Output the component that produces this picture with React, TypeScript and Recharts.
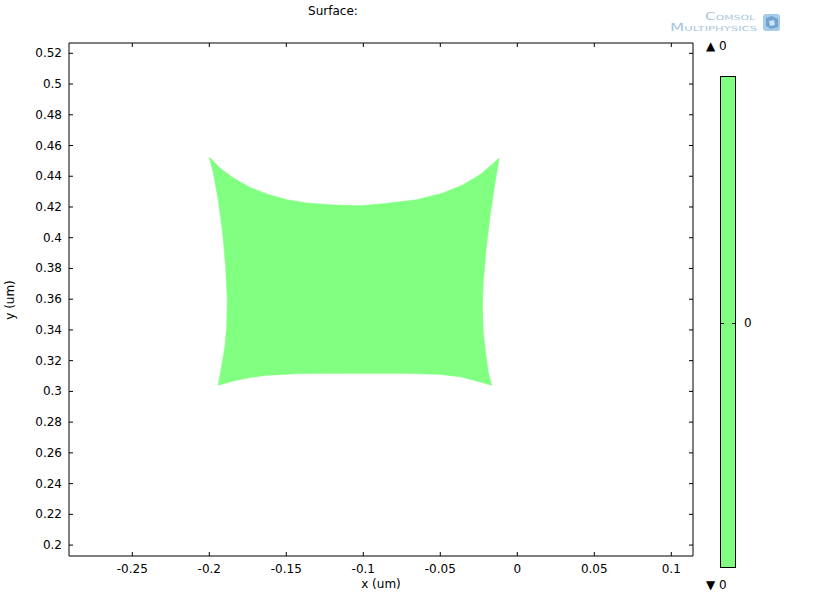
import React from 'react';
import { ScatterChart, Scatter, XAxis, YAxis } from 'recharts';

// outline of the deformed square (um), clockwise from top-left
const shapeX = [
  -0.2, -0.1931, -0.1844, -0.1736, -0.1627, -0.1497, -0.1368, -0.1195, -0.1021, -0.087, -0.0653, -0.0481,
  -0.0351, -0.0242, -0.0166, -0.0117,
  -0.0145, -0.0177, -0.0203, -0.0221, -0.0227, -0.0221, -0.0203, -0.0188, -0.0166,
  -0.0264, -0.0372, -0.0502, -0.0762, -0.1086, -0.1411, -0.1627, -0.1736, -0.1844, -0.1942,
  -0.1916, -0.1898, -0.1887, -0.1883, -0.1894, -0.1913, -0.1942, -0.1974,
];
const shapeY = [
  0.4525, 0.4453, 0.4388, 0.4327, 0.4284, 0.4247, 0.4226, 0.4213, 0.4208, 0.4221, 0.4247, 0.4291,
  0.4345, 0.441, 0.4475, 0.4518,
  0.4356, 0.4139, 0.3923, 0.3706, 0.3555, 0.3382, 0.323, 0.3122, 0.304,
  0.3068, 0.3096, 0.3111, 0.3118, 0.3118, 0.3116, 0.3105, 0.309, 0.3068, 0.304,
  0.3187, 0.3295, 0.3425, 0.3598, 0.3814, 0.4031, 0.4247, 0.4421,
];

const xTicks = [-0.25, -0.2, -0.15, -0.1, -0.05, 0, 0.05, 0.1];
const yTicks = [0.2, 0.22, 0.24, 0.26, 0.28, 0.3, 0.32, 0.34, 0.36, 0.38, 0.4, 0.42, 0.44, 0.46, 0.48, 0.5, 0.52];
const xDomain = [-0.2911, 0.1141];
const yDomain = [0.1929, 0.5267];

const data = shapeX.map((x, i) => ({ x, y: shapeY[i] }));

const FONT = '"DejaVu Sans", sans-serif';
const GREEN = '#80ff80';

const BottomTick = (props: any) => {
  const { x, y, payload } = props;
  return (
    <g>
      <line x1={x} y1={y} x2={x} y2={y - 4} stroke="#000" />
      <text x={x} y={y + 13} textAnchor="middle" dominantBaseline="central" fontSize={12} fontFamily={FONT} fill="#000">
        {String(payload.value)}
      </text>
    </g>
  );
};

const TopTick = (props: any) => (
  <line x1={props.x} y1={props.y} x2={props.x} y2={props.y + 4} stroke="#000" />
);

const LeftTick = (props: any) => {
  const { x, y, payload } = props;
  return (
    <g>
      <line x1={x} y1={y} x2={x + 4} y2={y} stroke="#000" />
      <text x={x - 7} y={y} textAnchor="end" dominantBaseline="central" fontSize={12} fontFamily={FONT} fill="#000">
        {String(payload.value)}
      </text>
    </g>
  );
};

const RightTick = (props: any) => (
  <line x1={props.x} y1={props.y} x2={props.x - 4} y2={props.y} stroke="#000" />
);

// closes the scatter's joint line into a filled surface
const renderSurface = (props: any) => {
  const pts = props.points || [];
  const d = pts.map((p: any, i: number) => `${i ? 'L' : 'M'}${p.x},${p.y}`).join('') + 'Z';
  return <path d={d} fill={GREEN} stroke={GREEN} strokeWidth={0.6} />;
};

const axisCommon = {
  type: 'number' as const,
  allowDataOverflow: true,
  interval: 0 as const,
  tickSize: 0,
  tickMargin: 0,
  tickLine: false,
  axisLine: { stroke: '#000' },
};

export default function App() {
  return (
    <div style={{ position: 'absolute', left: 0, top: 0, width: 819, height: 600, background: '#fff' }}>
      <ScatterChart width={819} height={600} margin={{ top: 42, right: 125, bottom: 43, left: 68 }}>
        <XAxis {...axisCommon} xAxisId="b" dataKey="x" domain={xDomain} ticks={xTicks} height={1} tick={<BottomTick />} />
        <XAxis {...axisCommon} xAxisId="t" orientation="top" dataKey="x" domain={xDomain} ticks={xTicks} height={1} tick={<TopTick />} />
        <YAxis {...axisCommon} yAxisId="l" dataKey="y" domain={yDomain} ticks={yTicks} width={1} tick={<LeftTick />} />
        <YAxis {...axisCommon} yAxisId="r" orientation="right" dataKey="y" domain={yDomain} ticks={yTicks} width={1} tick={<RightTick />} />
        <Scatter
          xAxisId="b"
          yAxisId="l"
          data={data}
          fill={GREEN}
          line={renderSurface}
          lineType="joint"
          shape={() => <g />}
          isAnimationActive={false}
        />
        <Scatter xAxisId="t" yAxisId="r" data={data} shape={() => <g />} isAnimationActive={false} />
      </ScatterChart>
      <svg
        width={819}
        height={600}
        style={{ position: 'absolute', left: 0, top: 0, pointerEvents: 'none' }}
        fontFamily={FONT}
        fontSize={12}
      >
        <text x={333} y={11} textAnchor="middle" dominantBaseline="central" fill="#000">Surface:</text>
        <text x={381} y={584} textAnchor="middle" dominantBaseline="central" fill="#000">x (um)</text>
        <text x={10} y={300} textAnchor="middle" dominantBaseline="central" fill="#000" transform="rotate(-90 10 300)">y (um)</text>

        {/* colour legend */}
        <text x={706} y={46} dominantBaseline="central" fill="#000">▲ 0</text>
        <rect x={720.5} y={76.5} width={15} height={491} fill={GREEN} stroke="#000" />
        <line x1={721} y1={323.5} x2={724} y2={323.5} stroke="#000" />
        <line x1={732} y1={323.5} x2={735} y2={323.5} stroke="#000" />
        <text x={744} y={323} dominantBaseline="central" fill="#000">0</text>
        <text x={706} y={585} dominantBaseline="central" fill="#000">▼ 0</text>

        {/* logo */}
        <text x={705} y={16} dominantBaseline="central" fontSize={10} fill="#a9c6de" style={{ fontVariant: 'small-caps' }} textLength={50} lengthAdjust="spacingAndGlyphs">Comsol</text>
        <text x={670} y={27} dominantBaseline="central" fontSize={10} fill="#a9c6de" style={{ fontVariant: 'small-caps' }} textLength={87} lengthAdjust="spacingAndGlyphs">Multiphysics</text>
        <rect x={763} y={14} width={17} height={17} rx={3} fill="#a8cbe8" />
        <path d="M766 18 L772 16 L778 19 L778 27 L771 29 L766 26 Z" fill="#6fa3d0" />
        <path d="M769 21 L774 20 L775 25 L770 26 Z" fill="#cfe3f3" />
      </svg>
    </div>
  );
}
